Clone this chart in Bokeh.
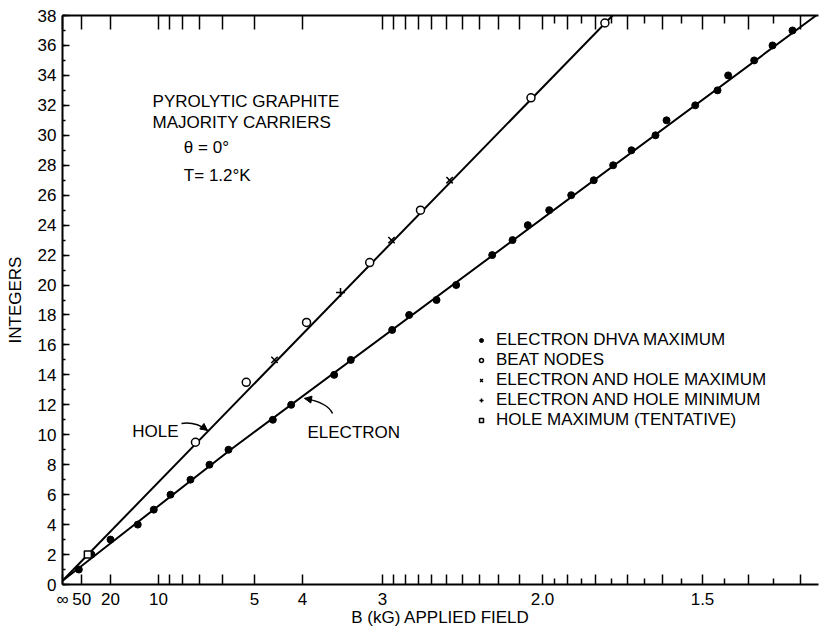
from bokeh.plotting import figure
from bokeh.models import (Range1d, LinearAxis, FixedTicker, SingleIntervalTicker, Label,
                          Legend, LegendItem, Arrow, NormalHead, CustomJSTickFormatter)
from bokeh.embed import file_html
from bokeh.resources import INLINE

# ---------------- data (x = 1/B in kG^-1, y = integer n) ----------------
electron_n = [1, 2, 3, 4, 5, 6, 7, 8, 9, 11, 12, 14, 15, 17, 18, 19, 20, 22, 23, 24, 25,
              26, 27, 28, 29, 30, 31, 32, 33, 34, 35, 36, 37]
electron_invB = [0.0170, 0.0302, 0.0500, 0.0784, 0.0951, 0.1125, 0.1333, 0.1531, 0.1729,
                 0.2191, 0.2382, 0.2830, 0.3003, 0.3434, 0.3611, 0.3896, 0.4101, 0.4476,
                 0.4688, 0.4847, 0.5070, 0.5299, 0.5534, 0.5736, 0.5927, 0.6177, 0.6292,
                 0.6591, 0.6823, 0.6934, 0.7205, 0.7396, 0.7604]
beat_n = [9.5, 13.5, 17.5, 21.5, 25, 32.5, 37.5]
beat_invB = [0.1385, 0.1914, 0.2542, 0.3200, 0.3729, 0.4880, 0.5650]
eh_max_n = [15, 23, 27]
eh_max_invB = [0.2208, 0.3427, 0.4032]
eh_min_n = [19.5]
eh_min_invB = [0.2896]
hole_tent_n = [2]
hole_tent_invB = [0.0264]

hole_line_invB = [0.0, 0.573]
hole_line_n = [0.25, 38.0]
electron_line_invB = [0.0, 0.175, 0.785]
electron_line_n = [0.25, 9.0, 38.0]

# tick fields (kG)
labeled_B = [50, 20, 10, 5, 4, 3, 2.0, 1.5]
labeled_text = ["50", "20", "10", "5", "4", "3", "2.0", "1.5"]
unlabeled_B = [9, 8, 7, 6, 2.9, 2.8, 2.7, 2.6, 2.5, 2.4, 2.3, 2.2, 2.1,
               1.9, 1.8, 1.7, 1.6, 1.4, 1.3]
minor_B = [1.95, 1.85, 1.75, 1.65, 1.55, 1.45, 1.35]

FONT = "Liberation Sans"

tick_vals = [0.0] + [1.0 / b for b in labeled_B] + [1.0 / b for b in unlabeled_B]
tick_labs = ["\u221e"] + labeled_text + [""] * len(unlabeled_B)
minor_vals = [1.0 / b for b in minor_B]

p = figure(width=820, height=629, x_range=Range1d(0, 0.7875), y_range=Range1d(0, 38),
           output_backend="svg", toolbar_location=None,
           x_axis_type=None, y_axis_type=None,
           min_border_left=62, min_border_right=2, min_border_top=15, min_border_bottom=45)
p.outline_line_color = None
p.background_fill_color = "white"
p.border_fill_color = "white"

xticker = FixedTicker(ticks=tick_vals, minor_ticks=minor_vals)
fmt = CustomJSTickFormatter(args=dict(vals=tick_vals, labs=tick_labs), code="""
for (let i = 0; i < vals.length; i++) { if (Math.abs(vals[i] - tick) < 1e-7) return labs[i]; }
return "";
""")
blank_fmt = CustomJSTickFormatter(code="return '';")

def style_axis(ax, tin, min_in):
    ax.axis_line_width = 2
    ax.axis_line_color = "black"
    ax.major_tick_in = tin
    ax.major_tick_out = 0
    ax.minor_tick_in = min_in
    ax.minor_tick_out = 0
    ax.major_tick_line_width = 1.5
    ax.minor_tick_line_width = 1.5
    ax.major_tick_line_color = "black"
    ax.minor_tick_line_color = "black"
    ax.major_label_text_font = FONT
    ax.major_label_text_font_size = "17px"
    ax.major_label_text_color = "black"
    ax.axis_label_text_font = FONT
    ax.axis_label_text_font_style = "normal"
    ax.axis_label_text_font_size = "17px"
    ax.axis_label_text_color = "black"

xb = LinearAxis(ticker=xticker, formatter=fmt, axis_label="B (kG) APPLIED FIELD")
style_axis(xb, 10, 6)
xb.major_label_standoff = 5
xb.axis_label_standoff = -4
p.add_layout(xb, "below")

xa = LinearAxis(ticker=xticker, formatter=blank_fmt)
style_axis(xa, 14, 8)
xa.major_label_standoff = 0
p.add_layout(xa, "above")

yl = LinearAxis(ticker=SingleIntervalTicker(interval=2, num_minor_ticks=2),
                axis_label="INTEGERS")
style_axis(yl, 7, 3)
yl.major_label_standoff = 6
yl.axis_label_standoff = 10
p.add_layout(yl, "left")

# fitted lines
p.line(hole_line_invB, hole_line_n, line_color="black", line_width=2)
p.line(electron_line_invB, electron_line_n, line_color="black", line_width=2)

# markers
r_e = p.scatter(electron_invB, electron_n, marker="circle", size=7,
                fill_color="black", line_color="black")
r_b = p.scatter(beat_invB, beat_n, marker="circle", size=8,
                fill_color="white", line_color="black", line_width=1.5)
r_x = p.scatter(eh_max_invB, eh_max_n, marker="x", size=9,
                line_color="black", line_width=1.5)
r_p = p.scatter(eh_min_invB, eh_min_n, marker="cross", size=9,
                line_color="black", line_width=1.5)
r_s = p.scatter(hole_tent_invB, hole_tent_n, marker="square", size=7,
                fill_color="white", line_color="black", line_width=1.5)

legend = Legend(items=[
    LegendItem(label="ELECTRON DHVA MAXIMUM", renderers=[r_e]),
    LegendItem(label="BEAT NODES", renderers=[r_b]),
    LegendItem(label="ELECTRON AND HOLE MAXIMUM", renderers=[r_x]),
    LegendItem(label="ELECTRON AND HOLE MINIMUM", renderers=[r_p]),
    LegendItem(label="HOLE MAXIMUM (TENTATIVE)", renderers=[r_s]),
], location=(414, 154))
legend.border_line_color = None
legend.background_fill_alpha = 0
legend.padding = 0
legend.spacing = 0
legend.margin = 0
legend.glyph_width = 10
legend.glyph_height = 20
legend.label_height = 20
legend.label_standoff = 10
legend.label_text_font = FONT
legend.label_text_font_size = "17px"
legend.label_text_color = "black"
p.add_layout(legend, "center")

def add_text(x, y, t, align="left", baseline="alphabetic", size="17px"):
    p.add_layout(Label(x=x, y=y, text=t, text_font=FONT, text_font_size=size,
                       text_color="black", text_align=align, text_baseline=baseline))

add_text(0.0938, 32.23, "PYROLYTIC GRAPHITE")
add_text(0.0938, 30.83, "MAJORITY CARRIERS")
add_text(0.1264, 29.19, "\u03b8 = 0\u00b0")
add_text(0.1264, 27.29, "T= 1.2\u00b0K")
add_text(0.1208, 10.22, "HOLE", align="right")
add_text(0.2552, 10.15, "ELECTRON")

# curved pointer arrows
p.quadratic(x0=[0.1240], y0=[10.755], x1=[0.1510], y1=[10.29], cx=[0.1385], cy=[10.89],
            line_color="black", line_width=1.5)
p.add_layout(Arrow(x_start=0.1385, y_start=10.89, x_end=0.1510, y_end=10.29,
                   line_color=None,
                   end=NormalHead(size=7, fill_color="black", line_color="black")))
p.quadratic(x0=[0.28125], y0=[11.42], x1=[0.2521], y1=[12.43], cx=[0.276], cy=[12.16],
            line_color="black", line_width=1.5)
p.add_layout(Arrow(x_start=0.276, y_start=12.16, x_end=0.2521, y_end=12.43,
                   line_color=None,
                   end=NormalHead(size=7, fill_color="black", line_color="black")))

open("out.html", "w").write(file_html(p, INLINE))
